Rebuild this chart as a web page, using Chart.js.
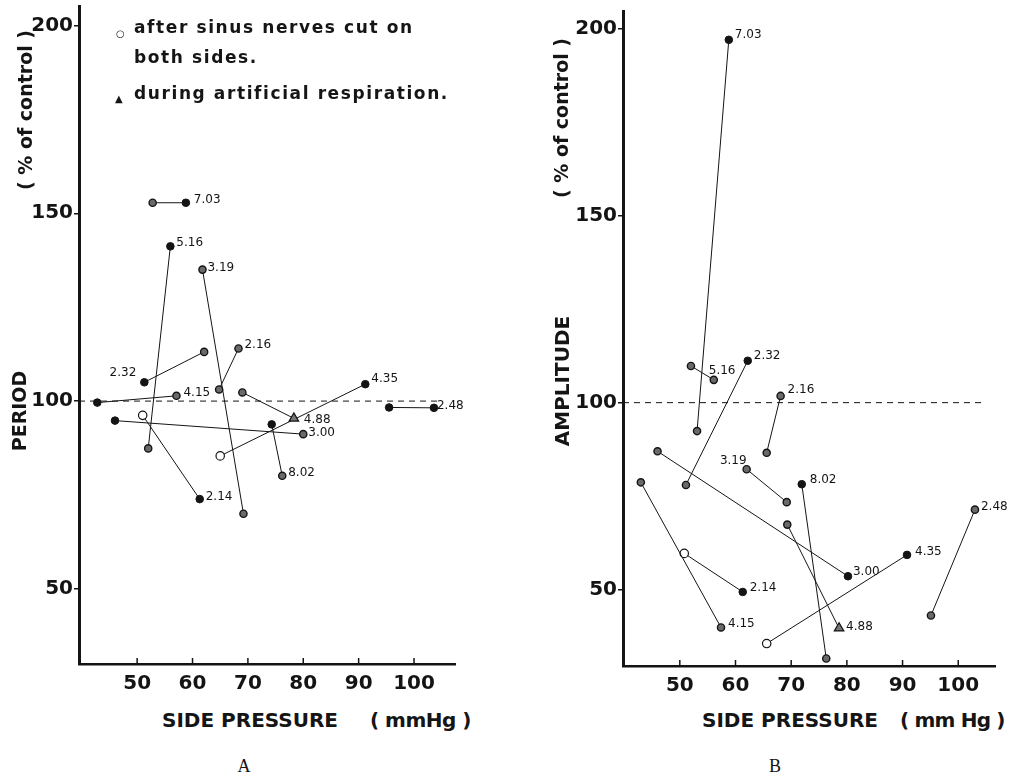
<!DOCTYPE html>
<html>
<head>
<meta charset="utf-8">
<script src="https://cdn.jsdelivr.net/npm/chart.js@4.4.1/dist/chart.umd.min.js"></script>
<style>
  body { margin: 0; background: #fff; width: 1011px; height: 777px; position: relative; overflow: hidden;
         font-family: "DejaVu Sans", sans-serif; color: #151515; }
  canvas { position: absolute; top: 0; }
  #periodChart { left: 0; }
  #ampChart { left: 540px; }
  .t { position: absolute; white-space: nowrap; font-weight: bold; line-height: 1; }
  .rot { transform: translate(-50%, -50%) rotate(-90deg); }
  .leg { font-size: 17px; letter-spacing: 1.6px; }
  .xt { font-size: 20px; top: 710px; }
  .yt { font-size: 19px; }
  .panel { position: absolute; font-family: "Liberation Serif", serif; font-size: 18px; line-height: 1; top: 757px; transform: translateX(-50%); }
</style>
</head>
<body>
<canvas id="periodChart" width="480" height="700"></canvas>
<canvas id="ampChart" width="470" height="700"></canvas>

<div class="t rot yt" style="left:25px;top:110px">( % of control )</div>
<div class="t rot yt" style="left:19px;top:411px">PERIOD</div>
<div class="t rot yt" style="left:561px;top:118px">( % of control )</div>
<div class="t rot yt" style="left:562px;top:381px;font-size:20px">AMPLITUDE</div>

<div class="t leg" style="left:116px;top:23px"><span style="font-size:10px;letter-spacing:0">○</span></div>
<div class="t leg" style="left:134px;top:19px">after sinus nerves cut on</div>
<div class="t leg" style="left:134px;top:49px">both sides.</div>
<div class="t leg" style="left:115px;top:88px"><span style="font-size:10px;letter-spacing:0">▲</span></div>
<div class="t leg" style="left:134px;top:85px">during artificial respiration.</div>

<div class="t xt" style="left:162px">SIDE PRESSURE</div>
<div class="t xt" style="left:370px;letter-spacing:-0.5px">( mmHg )</div>
<div class="t xt" style="left:702px">SIDE PRESSURE</div>
<div class="t xt" style="left:900px;letter-spacing:-0.8px">( mm Hg )</div>

<div class="panel" style="left:244px">A</div>
<div class="panel" style="left:775px">B</div>

<script>
// axis ticks (same for both panels)
const xTicks = [50, 60, 70, 80, 90, 100];
const yTicks = [50, 100, 150, 200];
const controlLevel = 100;

// point kinds: n = filled, d = dotted, o = after sinus nerves cut, t = artificial respiration

// Panel A: PERIOD (% of control) vs side pressure
const namesA = ["7.03", "5.16", "3.19", "2.16", "2.32", "4.15", "4.88", "4.35", "2.48", "3.00", "8.02", "2.14"];
const pressA = [[52.8, 58.8], [56.0, 52.0], [61.8, 69.2], [68.3, 64.8], [51.3, 62.1], [42.8, 57.1],
                [69.0, 78.3], [65.0, 91.2], [95.5, 103.6], [46.0, 80.0], [74.3, 76.2], [51.0, 61.3]];
const periodA = [[152.8, 152.8], [141.2, 87.4], [135.0, 70.0], [114.0, 103.1], [105.0, 113.1], [99.6, 101.4],
                 [102.3, 95.4], [85.4, 104.5], [98.3, 98.2], [94.8, 91.2], [93.8, 80.1], [96.2, 73.9]];
const kindsA = [["d", "n"], ["n", "d"], ["d", "d"], ["d", "d"], ["n", "d"], ["n", "d"],
                ["d", "t"], ["o", "n"], ["n", "n"], ["n", "d"], ["n", "d"], ["o", "n"]];
const taggedA = [1, 0, 0, 0, 0, 1, 1, 1, 1, 1, 1, 1];
const dashA = [39.5, 104.6];

// Panel B: AMPLITUDE (% of control) vs side pressure
const namesB = ["7.03", "5.16", "2.32", "2.16", "3.19", "8.02", "3.00", "4.15", "2.14", "4.88", "4.35", "2.48"];
const pressB = [[58.8, 53.1], [52.0, 56.1], [62.2, 51.1], [68.1, 65.6], [62.0, 69.2], [71.9, 76.3],
                [46.0, 80.2], [43.0, 57.4], [50.8, 61.3], [69.3, 78.6], [65.6, 90.8], [103.0, 95.1]];
const ampB = [[197.0, 92.4], [109.8, 106.1], [111.2, 78.0], [101.8, 86.6], [82.2, 73.4], [78.2, 31.6],
              [87.0, 53.6], [78.7, 39.9], [59.7, 49.4], [67.4, 39.7], [35.6, 59.3], [71.4, 43.1]];
const kindsB = [["n", "d"], ["d", "d"], ["n", "d"], ["d", "d"], ["d", "d"], ["n", "d"],
                ["d", "n"], ["d", "d"], ["o", "n"], ["d", "t"], ["o", "n"], ["d", "d"]];
const taggedB = [0, 1, 0, 0, 0, 0, 1, 1, 1, 1, 1, 0];
const dashB = [39.8, 104.8];

// label offsets from their point: [dx, dy, align]
const labelPosA = [[8, -3, "left"], [6, -3, "left"], [5, -2, "left"], [6, -4, "left"], [-8, -9, "right"], [7, -3, "left"],
                   [10, 2, "left"], [6, -5, "left"], [3, -2, "left"], [5, -1, "left"], [6, -3, "left"], [6, -2, "left"]];
const labelPosB = [[6, -5, "left"], [-5, -9, "left"], [6, -5, "left"], [7, -6, "left"], [0, -8, "right"], [8, -4, "left"],
                   [5, -4, "left"], [7, -4, "left"], [7, -4, "left"], [7, -1, "left"], [8, -3, "left"], [6, -3, "left"]];

const ink = "#141414";
const markStyle = {
  n: { style: "circle", r: 3.8, fill: ink, line: ink, w: 1 },
  d: { style: "circle", r: 3.6, fill: "#6a6a6a", line: ink, w: 1.4 },
  o: { style: "circle", r: 4.2, fill: "#fff", line: ink, w: 1.2 },
  t: { style: "triangle", r: 5.5, fill: "#777", line: ink, w: 1.2 },
};

function buildSets(names, xs, ys, kinds, dash) {
  const sets = names.map((name, i) => ({
    label: name,
    data: xs[i].map((x, j) => ({ x: x, y: ys[i][j] })),
    showLine: true,
    borderColor: ink,
    borderWidth: 1,
    pointStyle: (c) => markStyle[kinds[i][c.dataIndex]].style,
    pointRadius: (c) => markStyle[kinds[i][c.dataIndex]].r,
    pointBackgroundColor: (c) => markStyle[kinds[i][c.dataIndex]].fill,
    pointBorderColor: (c) => markStyle[kinds[i][c.dataIndex]].line,
    pointBorderWidth: (c) => markStyle[kinds[i][c.dataIndex]].w,
  }));
  sets.unshift({
    label: "control",
    data: dash.map((x) => ({ x: x, y: controlLevel })),
    showLine: true,
    borderColor: ink,
    borderWidth: 1,
    borderDash: [6, 5],
    pointRadius: 0,
  });
  return sets;
}

const tagPlugin = {
  id: "tags",
  afterDatasetsDraw(chart, args, opts) {
    const ctx = chart.ctx;
    ctx.save();
    ctx.fillStyle = ink;
    ctx.font = "12px 'DejaVu Sans'";
    ctx.textBaseline = "middle";
    opts.names.forEach((name, i) => {
      const pt = chart.getDatasetMeta(i + 1).data[opts.tagged[i]];
      const [dx, dy, align] = opts.pos[i];
      ctx.textAlign = align;
      ctx.fillText(name, pt.x + dx, pt.y + dy);
    });
    // short tick marks pointing into the plot
    const xs = chart.scales.x, bottom = chart.chartArea.bottom;
    ctx.strokeStyle = ink;
    ctx.lineWidth = 1.5;
    xTicks.forEach((v) => {
      const px = xs.getPixelForValue(v);
      ctx.beginPath();
      ctx.moveTo(px, bottom);
      ctx.lineTo(px, bottom - 6);
      ctx.stroke();
    });
    ctx.restore();
  },
};

function makeChart(id, sets, xr, yr, pad, yWidth, xHeight, tagOpts) {
  const tickFont = { family: "'DejaVu Sans'", size: 20, weight: "bold" };
  return new Chart(document.getElementById(id), {
    type: "scatter",
    data: { datasets: sets },
    plugins: [tagPlugin],
    options: {
      responsive: false,
      animation: false,
      layout: { padding: pad },
      plugins: { legend: { display: false }, tooltip: { enabled: false }, tags: tagOpts },
      scales: {
        x: {
          min: xr[0], max: xr[1],
          afterBuildTicks: (s) => { s.ticks = xTicks.map((v) => ({ value: v })); },
          afterFit: (s) => { s.height = xHeight; s.paddingLeft = 0; s.paddingRight = 0; },
          grid: { display: false },
          border: { display: true, color: ink, width: 2.5 },
          ticks: { color: ink, font: tickFont, padding: 0, maxRotation: 0 },
        },
        y: {
          min: yr[0], max: yr[1],
          afterBuildTicks: (s) => { s.ticks = yTicks.map((v) => ({ value: v })); },
          afterFit: (s) => { s.width = yWidth; s.paddingTop = 0; s.paddingBottom = 0; },
          grid: { display: true, drawOnChartArea: false, drawTicks: true, tickLength: 5, color: ink, lineWidth: 1.5 },
          border: { display: true, color: ink, width: 3 },
          ticks: { color: ink, font: tickFont, padding: 1 },
        },
      },
    },
  });
}

makeChart("periodChart", buildSets(namesA, pressA, periodA, kindsA, dashA),
  [39.5, 107.4], [30, 205], { top: 6, right: 25, left: 0, bottom: 0 }, 79, 36,
  { names: namesA, tagged: taggedA, pos: labelPosA });

makeChart("ampChart", buildSets(namesB, pressB, ampB, kindsB, dashB),
  [39.8, 106.6], [29.6, 204.7], { top: 11, right: 15, left: 0, bottom: 0 }, 83, 34,
  { names: namesB, tagged: taggedB, pos: labelPosB });
</script>
</body>
</html>
